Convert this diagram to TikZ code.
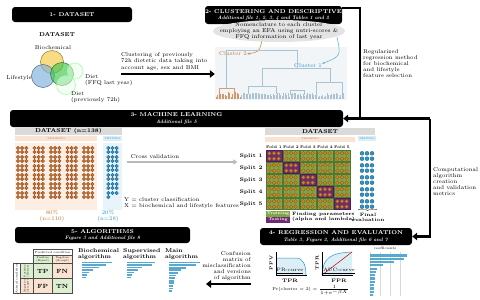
\documentclass[tikz,border=0pt]{standalone}
\usepackage{fontspec}
\usetikzlibrary{arrows.meta,positioning,calc,decorations.pathreplacing}
\definecolor{MLOrange}  {HTML}{C8702E}
\definecolor{MLOrangeLt}{HTML}{FBE3D2}
\definecolor{MLBlue}    {HTML}{2E93C4}
\definecolor{MLBlueLt}  {HTML}{DCEFF7}
\definecolor{MLGreen}   {HTML}{7FA646}
\definecolor{MLGreenLt} {HTML}{DCEFD0}
\definecolor{MLPurple}  {HTML}{6F2B72}
\definecolor{MLGray}    {HTML}{DADADA}
\definecolor{MLDendro}  {HTML}{A9C3D2}
\definecolor{MLDendroBg}{HTML}{F1F5F8}
\definecolor{MLYellow}  {HTML}{F5C842}
\definecolor{MLVennBlue}{HTML}{7FB2DD}
\definecolor{MLVennGrn} {HTML}{3FC64F}

\begin{document}
\begin{tikzpicture}[x=1pt,y=-1pt,
  hdr/.style={fill=black,rounded corners=3pt,text=white,align=center,inner sep=0pt,
              font=\fontsize{5.6}{6.2}\selectfont\bfseries},
  txt/.style={font=\fontsize{5.6}{6.2}\selectfont,align=left,inner sep=0pt},
  btxt/.style={txt,font=\fontsize{5.6}{6.2}\selectfont\bfseries},
  gbar/.style={fill=MLGray,minimum height=7pt,inner sep=0pt,
               font=\fontsize{5.6}{6}\selectfont\bfseries},
  tbar/.style={fill=#1,minimum height=5pt,inner sep=0pt,font=\fontsize{2.6}{3}\selectfont},
  cell/.style={draw=#1!70!black,fill=#1,line width=0.3pt,
               minimum width=16pt,minimum height=11pt,inner sep=0pt},
  dot/.style={fill=#1,draw=#1!60!black,line width=0.25pt},
  dend/.style={draw=MLDendro,line width=0.4pt},
  blk/.style={line width=2.6pt,black},
  blkarr/.style={blk,-{Triangle[length=5pt,width=7.5pt]}},
  garr/.style={draw=gray!55,line width=1.6pt,-{Triangle[length=4pt,width=5pt]}},
  carr/.style={draw=#1,line width=0.6pt,-{Stealth[length=3pt]}},
  cmcell/.style={draw=black!70,line width=0.3pt,inner sep=0pt,align=center,
             font=\fontsize{2.6}{2.9}\selectfont},
  cmbig/.style={cmcell,minimum width=19.5pt,minimum height=15pt,font=\fontsize{6}{6}\selectfont\bfseries},
  lgd/.style={fill=#1,text=white,minimum width=24pt,minimum height=5.5pt,inner sep=0pt,
              font=\fontsize{4}{4}\selectfont\bfseries},
  venn/.style={circle,draw=#1!60!black,fill=#1,fill opacity=0.65,minimum size=23pt,
               inner sep=0pt,line width=0.5pt},
  cbar/.style={fill=MLBlue!80}
]
  \useasboundingbox (0,0) rectangle (480,300);
  \fill[white] (0,0) rectangle (480,300);

  % Headers
  \node[hdr,minimum width=120pt,minimum height=15pt] (ds) at (72,14.5) {1- DATASET};
  \node[hdr,minimum width=137pt,minimum height=18pt] (cl) at (273.5,15)
    {2- CLUSTERING AND DESCRIPTIVE\\\fontsize{5}{5.6}\selectfont\textit{Additional file 1, 2, 3, 4 and Tables 1 and 2}};
  \node[hdr,minimum width=333pt,minimum height=17pt] (ml) at (176.5,118.5)
    {3- MACHINE LEARNING\\\fontsize{5}{5.6}\selectfont\textit{Additional file 5}};
  \node[hdr,minimum width=152pt,minimum height=17pt] (re) at (336,236.5)
    {4- REGRESSION AND EVALUATION\\\fontsize{5}{5.6}\selectfont\textit{Table 3, Figure 2, Additional file 6 and 7}};
  \node[hdr,minimum width=175pt,minimum height=16pt] (al) at (102.5,235)
    {5- ALGORITHMS\\\fontsize{5}{5.6}\selectfont\textit{Figure 3 and Additional file 8}};

  % Dataset (Venn)
  \node[btxt] (dsl) at (57,35) {DATASET};
  \node[txt] (bio) at (53,48) {Biochemical};
  \node[venn=MLYellow] (vb) at (52,62) {};
  \node[venn=MLVennBlue] (vl) at (43,76) {};
  \node[venn=MLVennGrn] (vd) at (62,74) {};
  \node[circle,draw=green!45,fill=green!8,fill opacity=0.5,minimum size=16pt,inner sep=0pt] (vf) at (75,71) {};
  \node[circle,draw=green!45,fill=green!8,fill opacity=0.5,minimum size=19pt,inner sep=0pt] (vp) at (66,85) {};
  \node[txt] (lif) at (19,78) {Lifestyle};
  \node[txt,anchor=west] (dfq) at (85,80.5) {Diet\\(FFQ last year)};
  \node[txt,anchor=west] (dpv) at (71,97.5) {Diet\\(previously 72h)};

  % Clustering
  \node[txt,anchor=south west] (ct) at (121,70.5)
    {Clustering of previously\\72h dietetic data taking into\\account age, sex and BMI};
  \node[fill=MLDendroBg,minimum width=132pt,minimum height=53pt,inner sep=0pt] (dg) at (281,73.5) {};
  \coordinate (cs) at (121,74);
  \draw[blkarr] (cs) -- (cs -| dg.west);
  \fill[gray!22] (279,31) ellipse (66 and 11);
  \node[txt,align=center] (nm) at (279,31)
    {Nomenclature to each cluster\\employing an EFA using nutri-scores \&\\FFQ information of last year};
  \node[txt,text=MLOrange] (c2) at (233,54) {Cluster 2};
  \node[txt,text=MLBlue] (c1) at (308,66) {Cluster 1};
  \coordinate (o1) at (262,41);
  \coordinate (o2) at (337,37);
  \draw[carr=MLOrange!80] (o1) .. controls (259,52) .. (c2.east);
  \draw[carr=MLBlue!70] (o2) .. controls (341,56) .. (c1.north east);

  % Dendrogram
  \draw[dend] (226.5,88) -- (226.5,50) -| (297,68);
  \draw[dend] (262,86) |- (330,68) -- (330,82);
  \draw[dend] (248,94) |- (276,86) -- (276,94);
  \draw[dend] (316,94) |- (342,82) -- (342,94);
  \draw[dend] (290,95) |- (304,90) -- (304,95);
  \draw[dend,draw=MLOrange!70] (219,95) |- (234,88) -- (234,95);
  \pgfmathsetseed{3}
  \foreach \i in {0,...,16}{
    \pgfmathsetmacro\hh{2+5*rnd}
    \draw[dend,draw=MLOrange!75] (216+1.5*\i,99) -- ++(0,-\hh);
  }
  \foreach \i in {0,...,68}{
    \pgfmathsetmacro\hh{2+4.5*rnd}
    \draw[dend] (241.5+1.5*\i,99) -- ++(0,-\hh);
  }
  \node[txt,anchor=north west] (rg) at (363,49)
    {Regularized\\regression method\\for biochemical\\and lifestyle\\feature selection};

  % Brackets between sections
  \coordinate (bt) at (342,8);
  \coordinate (jn) at (360,118.5);
  \coordinate (jn2) at (430,118.5);
  \draw[blk] (bt) -| (jn);
  \draw[blkarr] (jn) -- (ml.east);
  \draw[blk] (jn) -- (jn2);
  \draw[blkarr] (jn2) |- (re.east);
  \node[txt,anchor=north west] (cp) at (433,167)
    {Computational\\algorithm\\creation\\and validation\\metrics};

  % Machine learning: split of the dataset
  \node[gbar,minimum width=107pt] (dl) at (68.5,131.5) {DATASET (n=138)};
  \node[tbar=MLOrangeLt,minimum width=82pt,text=MLOrange] (trl) at (56,138.5) {TRAINING};
  \node[tbar=MLBlueLt,minimum width=19pt,text=MLBlue] (tsl) at (112.5,138.5) {TESTING};
  \fill[MLOrangeLt!60] (15,143) rectangle (97,210);
  \fill[MLBlueLt!70] (103,143) rectangle (122,210);
  \foreach \g in {0,...,4}
    \foreach \c in {0,1,2}
      \foreach \r in {0,...,5}
        \foreach \s in {0,1}
          \path[dot=MLOrange] (18+16.5*\g+4.2*\c,148+9*\r+4*\s) circle (1.8);
  \foreach \k in {0,...,33}{
    \pgfmathtruncatemacro\c{mod(\k,3)}
    \pgfmathtruncatemacro\r{div(\k,6)}
    \pgfmathtruncatemacro\s{mod(div(\k,3),2)}
    \path[dot=MLBlue] (108.3+4.2*\c,148+9*\r+4*\s) circle (1.8);
  }
  \node[txt,align=center,text=MLOrange] (p80) at (52,216) {80\%\\(n=110)};
  \node[txt,align=center,text=MLBlue] (p20) at (108,216) {20\%\\(n=28)};
  \node[txt] (cv) at (155,157) {Cross validation};
  \node[txt,anchor=west] (yx) at (124,203)
    {Y = cluster classification\\X = biochemical and lifestyle features};

  % Machine learning: folds
  \node[gbar,minimum width=110pt] (dr) at (320,131.5) {DATASET};
  \node[tbar=MLOrangeLt,minimum width=90pt,text=MLOrange] (trr) at (310,139) {TRAINING};
  \node[tbar=MLBlueLt,minimum width=18pt,text=MLBlue] (tsr) at (367,138.5) {TESTING};
  \foreach \f in {1,...,5}
    \node[btxt,font=\fontsize{3.8}{4}\selectfont\bfseries] (f\f) at (257+17*\f,147) {Fold \f};
  \foreach \s in {1,...,5}{
    \node[btxt,font=\fontsize{5.2}{5.5}\selectfont\bfseries] (s\s) at (251,144+12*\s) {Split \s};
    \foreach \f in {1,...,5}{
      \ifnum\s=\f
        \node[cell=MLPurple] (c\s\f) at (257+17*\f,144+12*\s) {};
      \else
        \node[cell=MLGreen] (c\s\f) at (257+17*\f,144+12*\s) {};
      \fi
      \foreach \a in {-1,0,1}
        \foreach \b in {-1,1}
          \path[dot=MLOrange!85!yellow] (257+17*\f+4.6*\a,144+12*\s+2.7*\b) circle (1.9);
    }
    \foreach \a in {-1,0,1}
      \foreach \b in {-1,1}
        \path[dot=MLBlue] (367+5*\a,144+12*\s+2.7*\b) circle (2);
  }
  \coordinate (cva) at (127,162);
  \draw[garr] (cva) -- ($(cva -| s1.west)+(-2,0)$);
  \node[lgd=MLGreen] (lt) at (278,214) {Training};
  \node[lgd=MLPurple] (ls) at (278,220) {Testing};
  \node[btxt,anchor=west,font=\fontsize{4.8}{5.6}\selectfont\bfseries] (fpm) at (292,217) {Finding parameters\\(alpha and lambda)};
  \draw[decorate,decoration={brace,amplitude=1.5pt},line width=0.4pt] (377,209) -- (358,209);
  \node[btxt,align=center,font=\fontsize{4.8}{5.6}\selectfont\bfseries] (fe) at (368,217.5) {Final\\evaluation};

  % Regression and evaluation
  \fill[MLBlueLt] (276,275) -- (276,258) -- (296,258) .. controls (303,258) and (306,265) .. (306,275) -- cycle;
  \draw[MLBlue,line width=0.5pt] (276,258) -- (296,258) .. controls (303,258) and (306,265) .. (306,275);
  \draw[line width=0.4pt] (276,252) -- (276,275) -- (307,275);
  \node[txt,rotate=90,font=\fontsize{4.5}{5}\selectfont\bfseries] (ppv) at (271,263) {PPV};
  \node[txt,font=\fontsize{4.8}{5}\selectfont] (prc) at (290,271) {\underline{PR-curve}};
  \node[btxt,font=\fontsize{5}{5}\selectfont\bfseries] (tpr1) at (290,281) {TPR};
  \fill[MLBlueLt] (322,275) .. controls (323,258) and (330,253) .. (352,252) -- (352,275) -- cycle;
  \draw[MLBlue,line width=0.5pt] (322,275) .. controls (323,258) and (330,253) .. (352,252);
  \draw[red!75!black,line width=0.5pt] (322,275) -- (352,252);
  \draw[line width=0.4pt] (322,252) -- (322,275) -- (353,275);
  \node[txt,rotate=90,font=\fontsize{4.5}{5}\selectfont\bfseries] (tpr2) at (317,263) {TPR};
  \node[txt,font=\fontsize{4.8}{5}\selectfont] (auc) at (339,271) {\underline{AUC-curve}};
  \node[btxt,font=\fontsize{5}{5}\selectfont\bfseries] (fpr) at (339,281) {FPR};
  \node[txt,font=\fontsize{4.2}{4.5}\selectfont] (frm) at (311,290.5)
    {Pr(cluster = 2) = $\frac{1}{1+e^{-\beta X}}$};
  \node[txt,font=\fontsize{3.4}{3.6}\selectfont] (coef) at (385,248) {coefficients};
  \foreach \gx in {370,380,390,400}
    \draw[gray!30,line width=0.25pt] (\gx,252) -- (\gx,296);
  \foreach \w [count=\i] in {37,34,24,13,7,6,5,5,5,4,4,4,3}
    \fill[cbar] (370,251+3.3*\i) rectangle ++(\w,2.2);

  % Algorithms
  \node[cmcell,minimum width=39pt,minimum height=6pt,font=\fontsize{3}{3}\selectfont] (pc) at (52.5,252.5) {Predicted condition};
  \node[cmcell,fill=MLGreenLt,minimum width=19.5pt,minimum height=8pt] (pp) at (42.75,259.5) {Positive\\(Reject)};
  \node[cmcell,fill=MLOrangeLt,minimum width=19.5pt,minimum height=8pt] (pn) at (62.25,259.5) {Negative\\(Accept)};
  \node[cmcell,rotate=90,minimum width=30pt,minimum height=7pt,font=\fontsize{3}{3}\selectfont] (ac) at (16.5,278.5) {Actual condition};
  \node[cmcell,fill=MLGreenLt,rotate=90,minimum width=15pt,minimum height=13pt] (ap) at (26.5,271) {Positive\\(Reject)};
  \node[cmcell,fill=MLOrangeLt,rotate=90,minimum width=15pt,minimum height=13pt] (an) at (26.5,286) {Negative\\(Accept)};
  \node[cmbig,fill=MLGreenLt] (tp) at (42.75,271) {TP};
  \node[cmbig,fill=MLOrangeLt] (fn) at (62.25,271) {FN};
  \node[cmbig,fill=MLOrangeLt] (fp) at (42.75,286) {FP};
  \node[cmbig,fill=MLGreenLt] (tn) at (62.25,286) {TN};

  \node[btxt,anchor=west] (bal) at (78,254) {Biochemical\\algorithm};
  \node[btxt,anchor=west] (sal) at (123,254) {Supervised\\algorithm};
  \node[btxt,anchor=west] (mal) at (165,254) {Main\\algorithm};
  \foreach \w [count=\i] in {30,24,17,11,7,5,4}
    \fill[cbar] (82,259+2.5*\i) rectangle ++(\w,1.7);
  \foreach \w [count=\i] in {28,25,15,11,7,5,4}
    \fill[cbar] (127,259+2.5*\i) rectangle ++(\w,1.7);
  \foreach \w [count=\i] in {31,27,17,12,9,7,6,5,5,4,4,3}
    \fill[cbar] (169,259+2.6*\i) rectangle ++(\w,1.8);
  \node[txt,align=right,anchor=north east] (cf) at (251,251)
    {Confusion\\matrix of\\misclassification\\and versions\\of algorithm};
  \coordinate (ca) at (251,284);
  \coordinate (cb) at (206,284);
  \draw[blkarr] (ca) -- (cb);
\end{tikzpicture}
\end{document}
